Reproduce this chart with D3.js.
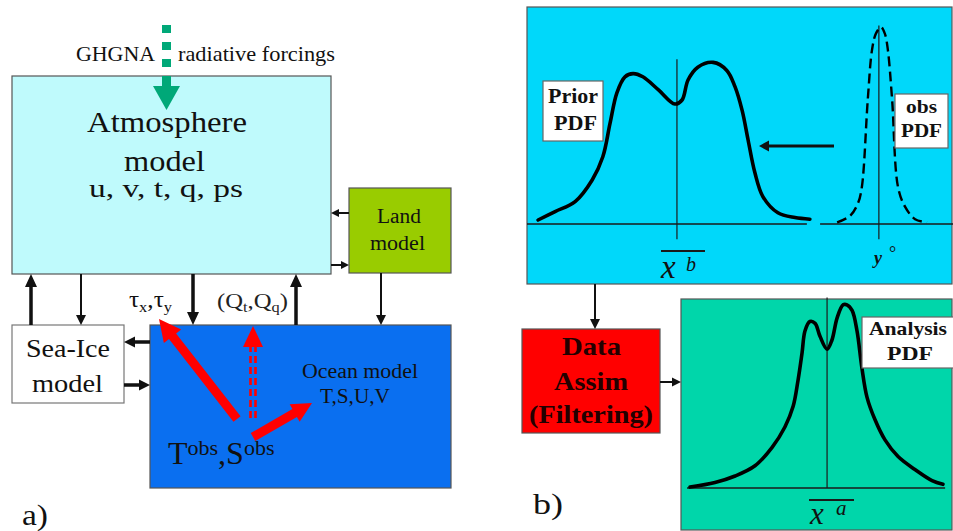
<!DOCTYPE html>
<html>
<head>
<meta charset="utf-8">
<script src="https://cdn.jsdelivr.net/npm/d3@7"></script>
<style>
  html, body { margin: 0; padding: 0; background: #ffffff; }
  svg { display: block; }
</style>
</head>
<body>
<svg id="fig" width="953" height="531"></svg>
<script>
// ---- PDF curves of panel b) (state value on x, density on y) ----
const priorX        = [0.26,0.66,1.13,1.53,1.78,1.95,2.11,2.30,2.49,2.72,3.08,3.47,3.64,3.78,4.01,4.37,4.69,4.88,5.05,5.19,5.35,5.54,5.89,6.29,6.64];
const priorDensity  = [0.025,0.078,0.14,0.275,0.42,0.63,0.82,0.92,0.94,0.92,0.84,0.75,0.775,0.90,0.98,1.01,0.96,0.86,0.71,0.525,0.32,0.17,0.07,0.04,0.03];
const obsX          = [7.28,7.58,7.77,7.86,8.00,8.10,8.19,8.31,8.40,8.47,8.57,8.71,8.87,9.11,9.39];
const obsDensity    = [0.01,0.05,0.13,0.23,0.78,1.09,1.19,1.23,1.19,1.09,0.78,0.23,0.11,0.03,0.01];
const analysisX       = [0.33,1.25,1.99,2.72,3.35,3.82,4.12,4.30,4.45,4.56,4.74,4.93,5.11,5.37,5.55,5.74,5.96,6.10,6.29,6.47,6.65,6.84,7.13,7.50,7.98,8.60,9.23,9.63];
const analysisDensity = [0.005,0.03,0.065,0.12,0.22,0.33,0.44,0.58,0.73,0.85,0.90,0.89,0.82,0.75,0.80,0.92,0.99,0.99,0.96,0.85,0.65,0.49,0.37,0.26,0.17,0.10,0.04,0.02];

// reference values marked by vertical lines
const priorMean    = 3.52;   // x^b
const obsValue     = 8.26;   // y^o
const analysisMean = 5.37;   // x^a

// extents of the horizontal axes
const priorAxis    = [0, 6.57];
const obsAxis      = [6.88, 10];
const analysisAxis = [0.22, 9.71];

// box captions
const atmosLines    = ["Atmosphere", "model", "u, v, t, q, ps"];
const landLines     = ["Land", "model"];
const seaIceLines   = ["Sea-Ice", "model"];
const oceanLines    = ["Ocean model", "T,S,U,V"];
const assimLines    = ["Data", "Assim", "(Filtering)"];
const forcingLabels = ["GHGNA", "radiative forcings"];
const panelLabels   = ["a)", "b)"];

const SERIF = "'Liberation Serif', 'Times New Roman', serif";
const svg = d3.select("#fig");

// ---------- helpers ----------
function txt(g, s, x0, x1, y, size, opt = {}) {
  const t = g.append("text")
    .attr("x", x0).attr("y", y)
    .style("font-family", SERIF)
    .style("font-size", size + "px")
    .style("font-weight", opt.bold ? "bold" : "normal")
    .style("font-style", opt.italic ? "italic" : "normal")
    .attr("fill", opt.fill || "#111")
    .text(s);
  if (x1 != null) t.attr("textLength", x1 - x0).attr("lengthAdjust", "spacingAndGlyphs");
  return t;
}

function richText(g, x, y, size, parts, fill, len) {
  const t = g.append("text").attr("x", x).attr("y", y)
    .style("font-family", SERIF).style("font-size", size + "px").attr("fill", fill || "#111");
  parts.forEach(p => {
    const s = t.append("tspan").text(p.s);
    if (p.size) s.style("font-size", p.size + "px");
    if (p.dy) s.attr("dy", p.dy);
  });
  if (len) t.attr("textLength", len).attr("lengthAdjust", "spacingAndGlyphs");
  return t;
}

// filled arrow: shaft + triangular head, tip at (x2,y2)
function arrow(g, x1, y1, x2, y2, shaftW, headL, headW, color) {
  const dx = x2 - x1, dy = y2 - y1, L = Math.hypot(dx, dy);
  const ux = dx / L, uy = dy / L, px = -uy, py = ux;
  const bx = x2 - ux * headL, by = y2 - uy * headL;
  const s = shaftW / 2, h = headW / 2;
  const pts = [
    [x1 + px * s, y1 + py * s], [bx + px * s, by + py * s], [bx + px * h, by + py * h],
    [x2, y2],
    [bx - px * h, by - py * h], [bx - px * s, by - py * s], [x1 - px * s, y1 - py * s]
  ];
  g.append("polygon").attr("points", pts.map(p => p.join(",")).join(" ")).attr("fill", color);
}

function box(g, x, y, w, h, fill, stroke) {
  g.append("rect").attr("x", x).attr("y", y).attr("width", w).attr("height", h)
    .attr("fill", fill).attr("stroke", stroke || "#555").attr("stroke-width", 1.2);
}

// ================= panel a) coupled model =================
const A = svg.append("g");

box(A, 12, 76, 319, 198, "#bffafc");         // atmosphere
box(A, 349, 188, 102, 85, "#99cc00");        // land
box(A, 12, 325, 112, 78, "#ffffff", "#777"); // sea ice
box(A, 150, 325, 301, 163, "#0a6ff0");       // ocean

// radiative forcing: dotted green arrow entering the atmosphere
const green = "#00a878";
[25, 42, 59].forEach(y0 => A.append("rect").attr("x", 162).attr("y", y0).attr("width", 9).attr("height", 8).attr("fill", green));
arrow(A, 166.5, 76, 166.5, 110, 9, 24, 27, green);
txt(A, forcingLabels[0], 76, 155, 61, 21);
txt(A, forcingLabels[1], 178, 335, 61, 21);

txt(A, atmosLines[0], 87, 247, 132, 30);
txt(A, atmosLines[1], 124, 205, 171, 29);
txt(A, atmosLines[2], 89, 243, 197, 26);

txt(A, landLines[0], 377, 421, 223, 20);
txt(A, landLines[1], 370, 425, 250, 21);

txt(A, seaIceLines[0], 26, 110, 357, 26);
txt(A, seaIceLines[1], 32, 103, 392, 26);

txt(A, oceanLines[0], 302, 418, 378, 20);
txt(A, oceanLines[1], 320, 390, 403, 20);

// exchange arrows
const K = "#111";
arrow(A, 349, 213, 331, 213, 2, 8, 8, K);     // land -> atmosphere
arrow(A, 331, 265, 349, 265, 2, 8, 8, K);     // atmosphere -> land
arrow(A, 31, 325, 31, 274, 3.5, 13, 12, K);   // sea ice -> atmosphere
arrow(A, 81, 274, 81, 325, 2, 10, 10, K);     // atmosphere -> sea ice
arrow(A, 193, 274, 193, 325, 3.5, 13, 12, K); // atmosphere -> ocean (stress)
arrow(A, 296, 325, 296, 274, 3.5, 13, 12, K); // ocean -> atmosphere
arrow(A, 381, 273, 381, 325, 2, 10, 10, K);   // land -> ocean (runoff)
arrow(A, 150, 342, 124, 342, 3.5, 11, 11, K); // ocean -> sea ice
arrow(A, 124, 385, 150, 385, 3.5, 11, 11, K); // sea ice -> ocean

// flux labels
richText(A, 129, 307, 23, [
  { s: "τ" }, { s: "x", size: 15, dy: 5 }, { s: ",", dy: -5 }, { s: "τ" }, { s: "y", size: 15, dy: 5 }
], "#111", 43);
richText(A, 217, 308, 21, [
  { s: "(Q" }, { s: "t", size: 14, dy: 4 }, { s: ",Q", dy: -4 }, { s: "q", size: 14, dy: 4 }, { s: ")", dy: -4 }
], "#222", 71);

// observation arrows (red)
const red = "#ff0000";
arrow(A, 237, 419, 159, 319, 9, 22, 22, red);
arrow(A, 253, 437, 312, 403, 9, 20, 20, red);
[250.5, 255.5].forEach(x => A.append("line").attr("x1", x).attr("x2", x).attr("y1", 418).attr("y2", 346)
  .attr("stroke", red).attr("stroke-width", 2.6).attr("stroke-dasharray", "7,4"));
arrow(A, 253, 347, 253, 326, 0.1, 21, 20, red);

richText(A, 168, 464, 32, [
  { s: "T" }, { s: "obs", size: 22, dy: -9 }, { s: ",S", dy: 9 }, { s: "obs", size: 22, dy: -9 }
]);

txt(A, panelLabels[0], 22, 48, 525, 30);

// ================= panel b) data assimilation =================
const B = svg.append("g");
const xTop = d3.scaleLinear().domain([0, 10]).range([527, 953]);
const yTop = d3.scaleLinear().domain([0, 1]).range([224, 64]);
const xBot = d3.scaleLinear().domain([0, 10]).range([681, 953]);
const yBot = d3.scaleLinear().domain([0, 1]).range([488, 303]);

box(B, 527, 7, 425, 277, "#00d8fa");
box(B, 522, 329, 138, 104, "#ff0000");
box(B, 681, 299, 271, 231, "#00d6aa");

// prior & obs axes and marker lines
const axisLine = (x1, x2, y1, y2, w) => B.append("line").attr("x1", x1).attr("x2", x2)
  .attr("y1", y1).attr("y2", y2).attr("stroke", "#1a1a1a").attr("stroke-width", w);
axisLine(xTop(priorAxis[0]), xTop(priorAxis[1]), yTop(0), yTop(0), 1.4);
axisLine(xTop(obsAxis[0]), xTop(obsAxis[1]), yTop(0), yTop(0), 1.4);
axisLine(xTop(priorMean), xTop(priorMean), yTop(1.03), yTop(-0.095), 1.2);
axisLine(xTop(obsValue), xTop(obsValue), yTop(1.24), yTop(-0.095), 1.2);

const lineTop = d3.line().x(d => xTop(d[0])).y(d => yTop(d[1])).curve(d3.curveCatmullRom.alpha(0.5));
B.append("path").attr("d", lineTop(d3.zip(priorX, priorDensity)))
  .attr("fill", "none").attr("stroke", "#000").attr("stroke-width", 3.6).attr("stroke-linecap", "round");
B.append("path").attr("d", lineTop(d3.zip(obsX, obsDensity)))
  .attr("fill", "none").attr("stroke", "#000").attr("stroke-width", 2.4).attr("stroke-dasharray", "10,5");

// arrow from obs PDF towards prior
arrow(B, 834, 146, 759, 146, 3, 10, 11, K);

// label boxes
box(B, 543, 81, 60, 60, "#ffffff", "#666");
txt(B, "Prior", 548, 598, 103, 20, { bold: true });
txt(B, "PDF", 554, 597, 130, 20, { bold: true });
box(B, 895, 94, 53, 54, "#ffffff", "#666");
txt(B, "obs", 906, 937, 113, 19, { bold: true });
txt(B, "PDF", 901, 942, 137, 19, { bold: true });

// x^b and y^o
axisLine(661, 705, 251, 251, 2);
txt(B, "x", 661, null, 278, 33, { italic: true });
txt(B, "b", 686, null, 271, 20, { italic: true });
txt(B, "y", 874, null, 264, 18, { italic: true, bold: true });
txt(B, "°", 889, null, 259, 18);

// arrows to/from the filtering step
arrow(B, 595, 284, 595, 329, 2, 10, 10, K);
txt(B, assimLines[0], 562, 621, 355, 25, { bold: true, fill: "#200" });
txt(B, assimLines[1], 554, 628, 390, 25, { bold: true, fill: "#200" });
txt(B, assimLines[2], 529, 653, 423, 25, { bold: true, fill: "#200" });
arrow(B, 660, 382, 681, 382, 2, 9, 9, K);

// analysis PDF
axisLine(xBot(analysisAxis[0]), xBot(analysisAxis[1]), yBot(0), yBot(0), 1.4);
axisLine(xBot(analysisMean), xBot(analysisMean), yBot(1.03), yBot(0), 1.2);
const lineBot = d3.line().x(d => xBot(d[0])).y(d => yBot(d[1])).curve(d3.curveCatmullRom.alpha(0.5));
B.append("path").attr("d", lineBot(d3.zip(analysisX, analysisDensity)))
  .attr("fill", "none").attr("stroke", "#000").attr("stroke-width", 3.6).attr("stroke-linecap", "round");

box(B, 862, 317, 93, 51, "#ffffff", "#666");
txt(B, "Analysis", 869, 947, 335, 19, { bold: true });
txt(B, "PDF", 887, 933, 360, 19, { bold: true });

axisLine(809, 854, 500, 500, 2);
txt(B, "x", 810, null, 524, 31, { italic: true });
txt(B, "a", 836, null, 515, 21, { italic: true });

txt(B, panelLabels[1], 533, 563, 514, 30);
</script>
</body>
</html>
